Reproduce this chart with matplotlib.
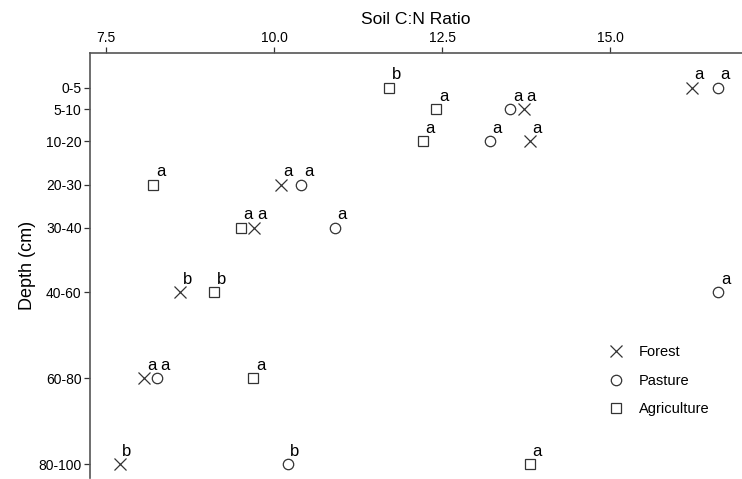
import matplotlib
matplotlib.use("Agg")
import matplotlib.pyplot as plt

plt.rcParams['font.family'] = ['Liberation Sans', 'DejaVu Sans']

# Dados
depth_labels = ['0-5', '5-10', '10-20', '20-30', '30-40', '40-60', '60-80', '80-100']
depth_mid = [2.5, 7.5, 15, 25, 35, 50, 70, 90]

forest = [16.21, 13.71, 13.80, 10.10, 9.70, 8.60, 8.07, 7.70]
pasture = [16.60, 13.51, 13.21, 10.40, 10.90, 16.61, 8.26, 10.20]
agriculture = [11.71, 12.41, 12.21, 8.20, 9.50, 9.10, 9.69, 13.80]

forest_let = ['a', 'a', 'a', 'a', 'a', 'b', 'a', 'b']
pasture_let = ['a', 'a', 'a', 'a', 'a', 'a', 'a', 'b']
agric_let = ['b', 'a', 'a', 'a', 'a', 'b', 'a', 'a']

cor = '#333333'

fig = plt.figure(figsize=(7.42, 4.79), dpi=100)
ax = fig.add_axes([90 / 742, 1 / 479, 652 / 742, 425 / 479])

series = [(forest, forest_let, 'x', 'Forest'),
          (pasture, pasture_let, 'o', 'Pasture'),
          (agriculture, agric_let, 's', 'Agriculture')]

for vals, lets, mk, nome in series:
    ax.plot(vals, depth_mid, linestyle='none', marker=mk, markersize=7.5 if mk != 'x' else 8,
            markerfacecolor='none', markeredgecolor=cor, markeredgewidth=0.9, label=nome)
    for v, d, l in zip(vals, depth_mid, lets):
        ax.annotate(l, (v, d), xytext=(2, 6), textcoords='offset points',
                    ha='left', va='baseline', fontsize=12, color='black')

ax.set_xlim(7.26, 16.96)
ax.set_ylim(93.2, -5.56)
ax.set_xticks([7.5, 10.0, 12.5, 15.0])
ax.set_xticklabels(['7.5', '10.0', '12.5', '15.0'])
ax.set_yticks(depth_mid)
ax.set_yticklabels(depth_labels)

ax.xaxis.tick_top()
ax.xaxis.set_label_position('top')
ax.set_xlabel('Soil C:N Ratio', fontsize=12.6, labelpad=5)
ax.set_ylabel('Depth (cm)', fontsize=13, labelpad=2)
ax.tick_params(axis='both', labelsize=10, length=4, width=0.9, color=cor, pad=2)

for s in ['bottom', 'right']:
    ax.spines[s].set_visible(False)
for s in ['top', 'left']:
    ax.spines[s].set_color('#555555')
    ax.spines[s].set_linewidth(1.2)

ax.legend(loc='upper left', bbox_to_anchor=(504 / 652, (479 - 333) / 425), frameon=False,
          fontsize=10.5, handletextpad=1.0, labelspacing=1.0, handlelength=1.2)

fig.savefig('out.png', dpi=100)
